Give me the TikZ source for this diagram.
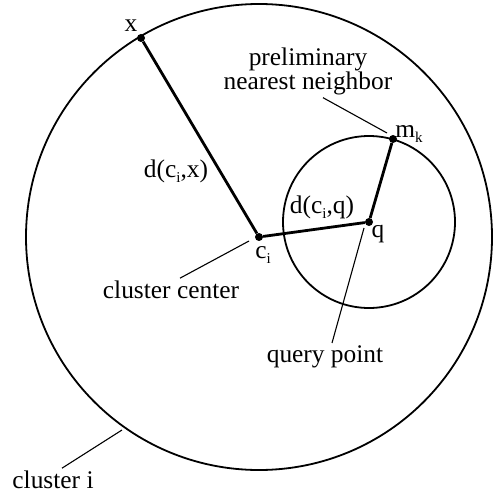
\documentclass[tikz,border=0pt]{standalone}
\usepackage{fontspec}
\setmainfont{Liberation Serif}
\newcommand{\lowsub}[1]{\raisebox{-5pt}{\fontsize{15}{15}\selectfont #1}}

\begin{document}
\begin{tikzpicture}[
    x=1pt, y=-1pt,
    font=\fontsize{25.4}{24}\selectfont,
    dot/.style={circle, fill, inner sep=0pt, minimum size=8pt},
    lbl/.style={inner sep=2pt, anchor=base},
    ring/.style={line width=1.8pt},
    dist/.style={line width=2.8pt},
    leader/.style={line width=1.1pt}
]
\useasboundingbox (0,0) rectangle (493,497);

% Points
\node[dot] (ci) at (259,237) {};
\node[dot] (q) at (369,222) {};
\node[dot] (mk) at (393,139) {};
\node[dot] (xpt) at (141,38) {};

% Cluster and query circles
\draw[ring] (ci) circle[radius=233pt];
\draw[ring] (q) circle[radius=86pt];

% Distances
\draw[dist] (ci) -- (xpt);
\draw[dist] (ci) -- (q);
\draw[dist] (q) -- (mk);

% Point labels
\node[lbl] (xlab) at (131,32) {x};
\node[lbl] (cilab) at (263,258) {c\lowsub{i}};
\node[lbl] (qlab) at (378,237) {q};
\node[lbl] (mklab) at (409,138) {m\lowsub{k}};
\node[lbl] (dxlab) at (176,177) {d(c\lowsub{i},x)};
\node[lbl] (dqlab) at (322,213) {d(c\lowsub{i},q)};

% Descriptions
\node[lbl, align=center] (pnlab) at (308,90) {preliminary\\nearest neighbor};
\node[lbl] (cclab) at (171,298) {cluster center};
\node[lbl] (qplab) at (325,362) {query point};
\node[lbl] (cllab) at (53,488) {cluster i};

% Leaders
\coordinate (pntip) at (387,133);
\coordinate (cctip) at (249,241);
\coordinate (qptip) at (364,228);
\coordinate (cltip) at (122,430);
\draw[leader] ([xshift=15pt]pnlab.south) -- (pntip);
\draw[leader] ([xshift=9pt]cclab.north) -- (cctip);
\draw[leader] ([xshift=7pt]qplab.north) -- (qptip);
\draw[leader] ([xshift=9pt]cllab.north) -- (cltip);

\end{tikzpicture}
\end{document}
